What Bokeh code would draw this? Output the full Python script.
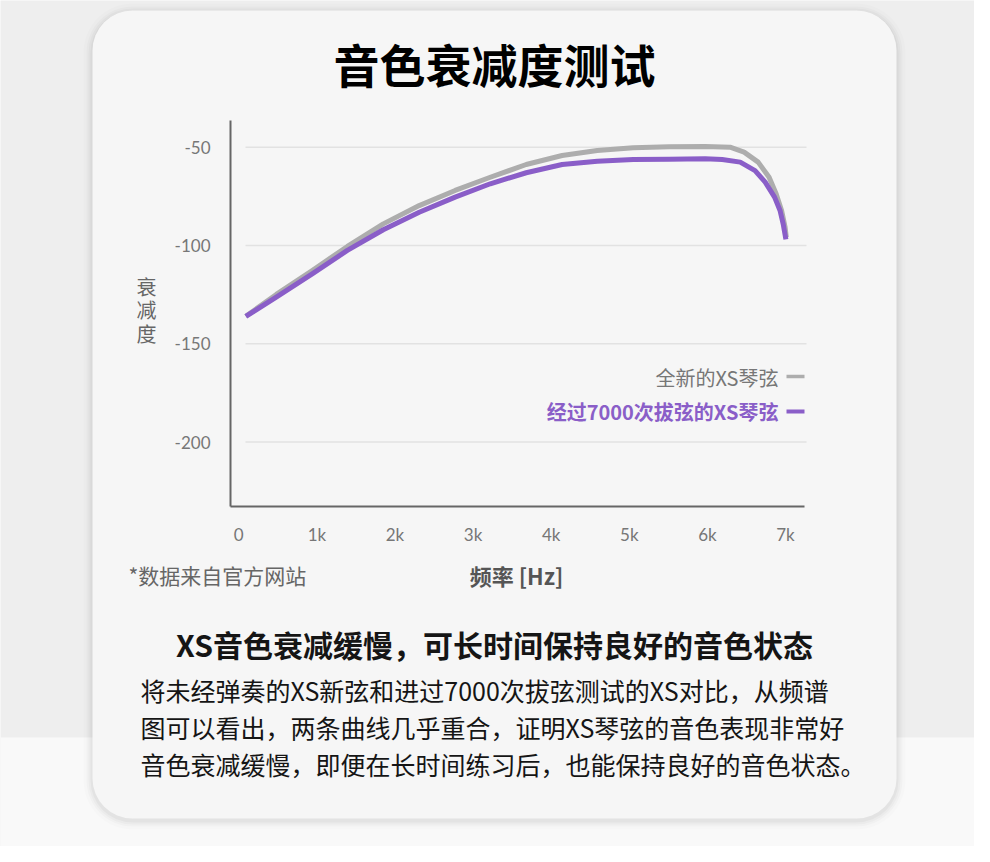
from bokeh.plotting import figure
from bokeh.models import Range1d, FixedTicker, Label, BoxAnnotation
from bokeh.embed import file_html
from bokeh.resources import INLINE

# frequency [Hz] and decay values
freq_new = [90, 480, 940, 1390, 1850, 2310, 2770, 3220, 3680, 4140, 4590, 5050,
            5510, 5970, 6290, 6470, 6650, 6790, 6880, 6950, 6995, 7010]
new_string = [-136.0, -124.9, -112.7, -100.5, -89.0, -79.7, -72.0, -65.3, -58.8, -54.2, -51.7, -50.3,
              -49.8, -49.6, -50.0, -52.5, -57.6, -65.3, -73.7, -82.2, -90.7, -95.8]
freq_used = [90, 480, 940, 1390, 1850, 2310, 2770, 3220, 3680, 4140, 4590, 5050,
             5510, 5970, 6190, 6420, 6610, 6740, 6860, 6930, 6970, 7005]
used_string = [-136.1, -126.3, -114.4, -102.5, -92.0, -83.1, -75.4, -68.6, -63.0, -58.8, -57.1, -56.3,
               -56.1, -55.9, -56.3, -57.6, -61.9, -67.8, -75.4, -82.2, -89.0, -96.9]

x_ticks = [0, 1000, 2000, 3000, 4000, 5000, 6000, 7000]
x_tick_labels = ["0", "1k", "2k", "3k", "4k", "5k", "6k", "7k"]
y_ticks = [-200, -150, -100, -50]
y_tick_labels = ["-200", "-150", "-100", "-50"]

series_names = ["全新的XS琴弦", "经过7000次拔弦的XS琴弦"]
title_text = "音色衰减度测试"
y_label = "衰\n减\n度"
x_label = "频率 [Hz]"
note_text = "*数据来自官方网站"
headline = "XS音色衰减缓慢，可长时间保持良好的音色状态"
body_lines = ["将未经弹奏的XS新弦和进过7000次拔弦测试的XS对比，从频谱",
              "图可以看出，两条曲线几乎重合，证明XS琴弦的音色表现非常好",
              "音色衰减缓慢，即便在长时间练习后，也能保持良好的音色状态。"]

GRAY = "#adadad"
PURPLE = "#8a5ec8"
CJK = "Noto Sans CJK SC"
W, H = 974, 846

# the plot frame fills the whole canvas (axes use fixed locations), so the
# scales are set so that 0 Hz lands at x=238 and -50 at y=147,
# with 78.1 px per kHz and 1.966 px per unit
PX_HZ = 78.1 / 1000
PX_DB = 1.966
x_start = -238.3 / PX_HZ
x_end = (W - 238.3) / PX_HZ
y_end = -50 + 146.7 / PX_DB
y_start = -50 - (H - 146.7) / PX_DB


def hz(px):
    return (px - 238.3) / PX_HZ


def db(py):
    return -50 - (py - 146.7) / PX_DB


def canvas_box(l, t, r, b, **kw):
    return BoxAnnotation(left=l, right=r, top=t, bottom=b,
                         left_units="canvas", right_units="canvas",
                         top_units="canvas", bottom_units="canvas",
                         line_color=None, level="underlay", **kw)


def canvas_label(px, py, text, **kw):
    kw.setdefault("text_baseline", "middle")
    return Label(x=px, y=py, x_units="canvas", y_units="canvas", text=text,
                 text_font=CJK, **kw)


p = figure(width=W, height=H, x_range=Range1d(x_start, x_end), y_range=Range1d(y_start, y_end),
           output_backend="svg", toolbar_location=None, min_border=0,
           background_fill_color="#eeeeee", border_fill_color="#eeeeee", outline_line_color=None)
p.xgrid.visible = False
p.ygrid.visible = False

# page background and card with a soft shadow
p.add_layout(canvas_box(0, 737, 1000, 870, fill_color="#f9f9f9", fill_alpha=1))
for grow, alpha in [(9, 0.012), (6, 0.018), (4, 0.025), (2, 0.03)]:
    p.add_layout(canvas_box(92 - grow, 10 - grow + 2, 896 + grow, 818 + grow + 2,
                            fill_color="#000000", fill_alpha=alpha, border_radius=40 + grow))
p.add_layout(canvas_box(92, 10, 896, 818, fill_color="#f6f6f6", fill_alpha=1, border_radius=40))

# axes, drawn at the corner of the chart area
for ax in [p.xaxis[0], p.yaxis[0]]:
    ax.axis_line_color = "#666666"
    ax.axis_line_width = 2
    ax.major_tick_in = 0
    ax.major_tick_out = 0
    ax.minor_tick_in = 0
    ax.minor_tick_out = 0
    ax.major_tick_line_color = None
    ax.minor_tick_line_color = None
    ax.major_label_text_font = "Lato"
    ax.major_label_text_font_size = "17px"
    ax.major_label_text_color = "#777777"

p.xaxis.ticker = FixedTicker(ticks=x_ticks)
p.xaxis.major_label_overrides = dict(zip(x_ticks, x_tick_labels))
p.xaxis.major_label_standoff = 17
p.xaxis.fixed_location = db(506)
p.xaxis.bounds = (hz(230), hz(804))

p.yaxis.ticker = FixedTicker(ticks=y_ticks)
p.yaxis.major_label_overrides = dict(zip(y_ticks, y_tick_labels))
p.yaxis.major_label_standoff = 20
p.yaxis.fixed_location = hz(230)
p.yaxis.bounds = (db(506), db(120))

# horizontal grid lines at the y ticks
p.segment(x0=hz(245), x1=hz(806), y0=y_ticks, y1=y_ticks, line_color="#e2e2e2", line_width=1.5)

# curves
p.line(freq_new, new_string, line_color=GRAY, line_width=5, line_join="round")
p.line(freq_used, used_string, line_color=PURPLE, line_width=5, line_join="round")

# legend: text first, key after it
p.segment(x0=hz(786), x1=hz(804), y0=[db(376), db(411)], y1=[db(376), db(411)],
          line_color=[GRAY, PURPLE], line_width=[3.5, 4])
p.add_layout(canvas_label(778, 377, series_names[0], text_align="right",
                          text_font_size="20px", text_color="#777777"))
p.add_layout(canvas_label(778, 411, series_names[1], text_align="right",
                          text_font_size="20px", text_font_style="bold", text_color=PURPLE))

# texts around the chart
p.add_layout(canvas_label(494, 62, title_text, text_align="center",
                          text_font_size="46px", text_font_style="bold", text_color="#000000"))
p.add_layout(canvas_label(146, 271, y_label, text_align="center", text_baseline="top",
                          text_font_size="20px", text_color="#666666", text_line_height=0.82))
p.add_layout(canvas_label(516, 574, x_label, text_align="center",
                          text_font_size="22px", text_font_style="bold", text_color="#555555"))
p.add_layout(canvas_label(128, 574, note_text, text_align="left",
                          text_font_size="21px", text_color="#666666"))
p.add_layout(canvas_label(494, 643, headline, text_align="center",
                          text_font_size="30px", text_font_style="bold", text_color="#151515"))
for i, line in enumerate(body_lines):
    p.add_layout(canvas_label(140, 689 + 37 * i, line, text_align="left",
                              text_font_size="25px", text_color="#151515"))

open("out.html", "w").write(file_html(p, INLINE))
